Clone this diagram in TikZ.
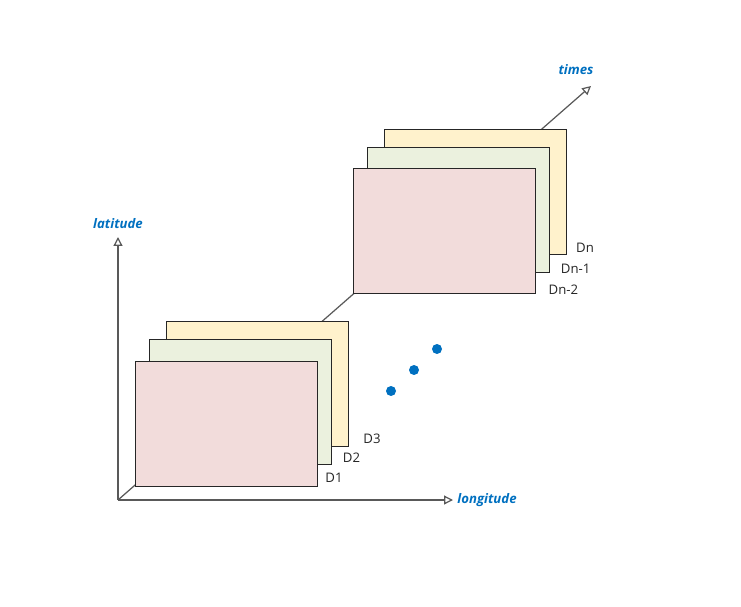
\documentclass[tikz,border=0pt]{standalone}
\usepackage{fontspec}
\setmainfont{Open Sans}
\usetikzlibrary{arrows.meta, positioning}
\definecolor{axblue}{HTML}{0070C0}
\definecolor{axgray}{HTML}{595959}
\definecolor{pinkfill}{HTML}{F2DCDB}
\definecolor{greenfill}{HTML}{EBF1DE}
\definecolor{yellowfill}{HTML}{FFF2CC}
\definecolor{frame}{HTML}{262626}

\begin{document}
\begin{tikzpicture}[x=0.02cm, y=0.02cm, >={Triangle[open, length=5pt, width=5pt]},
  layer/.style={draw=frame, fill=#1, line width=0.6pt, minimum width=3.64cm,
    minimum height=2.5cm, inner sep=0pt, anchor=north west},
  tag/.style={anchor=south west, inner sep=1pt, font=\fontsize{7.5}{9}\selectfont, text=frame},
  axname/.style={text=axblue, font=\fontsize{7.5}{9}\selectfont\bfseries\itshape},
  dot/.style={circle, fill=axblue, minimum size=0.2cm, inner sep=0pt}]

% Frame
\useasboundingbox (0,0) rectangle (741,606);

% Axes
\coordinate (o) at (118,106);
\coordinate (lat) at (118,369);
\coordinate (lon) at (453,106);
\coordinate (tim) at (591,520);
\draw[axgray, ->, line width=0.7pt] (o) -- (lat);
\draw[axgray, ->, line width=0.7pt] (o) -- (lon);
\draw[axgray, ->, line width=0.7pt] (o) -- (tim);
\node[axname, above=1pt of lat] (latname) {latitude};
\node[axname, right=-1pt of lon] (lonname) {longitude};
\node[axname] (timname) at (576,536) {times};

% First layers
\node[layer=yellowfill] (d3) at (166,285) {};
\node[layer=greenfill] (d2) at (149,267) {};
\node[layer=pinkfill] (d1) at (135,245) {};
\node[tag, xshift=7pt, yshift=1pt] (d3tag) at (d3.south east) {D3};
\node[tag, xshift=5pt] (d2tag) at (d2.south east) {D2};
\node[tag, xshift=3pt, yshift=1.5pt] (d1tag) at (d1.south east) {D1};

% Dots between
\node[dot] (p1) at (391,215) {};
\node[dot] (p2) at (414,236) {};
\node[dot] (p3) at (437,257) {};

% Last layers
\node[layer=yellowfill] (dn) at (384,477) {};
\node[layer=greenfill] (dnb) at (367,459) {};
\node[layer=pinkfill] (dnc) at (353,438) {};
\node[tag, xshift=4pt] (dntag) at (dn.south east) {Dn};
\node[tag, xshift=5pt, yshift=-1.5pt] (dnbtag) at (dnb.south east) {Dn-1};
\node[tag, xshift=6pt, yshift=-1.5pt] (dnctag) at (dnc.south east) {Dn-2};

\end{tikzpicture}
\end{document}
